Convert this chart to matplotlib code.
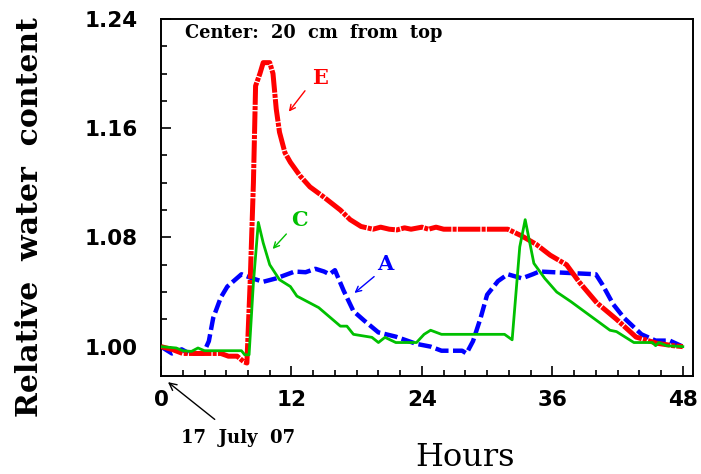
import matplotlib
matplotlib.use("Agg")
import matplotlib.pyplot as plt
from matplotlib.ticker import MultipleLocator, FixedLocator

# curve E (red, dash-dot)
hours_e = [0, 1.0, 2.0, 5.5, 6.2, 7.0, 7.6, 7.9, 8.2, 8.5, 8.7, 9.1, 9.4, 10.0, 10.3,
           10.6, 10.9, 11.4, 11.9, 12.8, 13.7, 14.9, 16.5, 17.4, 18.4, 19.5, 20.2,
           21.0, 21.7, 22.4, 23.0, 24.0, 24.6, 25.3, 26.0, 28.0, 31.0, 31.9, 33.2,
           34.5, 35.8, 37.3, 38.5, 40.1, 41.9, 43.7, 45.6, 47.1, 48.0]
water_e = [1.000, 0.998, 0.995, 0.995, 0.993, 0.993, 0.989, 0.988, 1.047, 1.120,
           1.191, 1.200, 1.208, 1.208, 1.200, 1.174, 1.157, 1.142, 1.135, 1.125,
           1.117, 1.110, 1.100, 1.093, 1.088, 1.086, 1.0875, 1.086, 1.0855, 1.087,
           1.086, 1.0875, 1.086, 1.0875, 1.086, 1.086, 1.086, 1.086, 1.081, 1.075,
           1.067, 1.060, 1.047, 1.032, 1.020, 1.007, 1.0025, 1.0007, 1.000]

# curve C (green, solid)
hours_c = [0, 1.4, 2.0, 2.8, 3.4, 4.0, 7.4, 7.7, 8.1, 8.5, 8.95, 9.4, 10.0, 10.9,
           11.9, 12.5, 14.5, 16.5, 17.1, 17.7, 19.4, 20.0, 20.6, 21.6, 23.5, 24.2,
           24.8, 25.8, 31.6, 32.3, 33.0, 33.5, 34.3, 35.3, 36.4, 37.7, 41.3, 41.9,
           43.5, 45.2, 45.5, 45.8, 46.5, 48.0]
water_c = [1.000, 0.999, 0.997, 0.9965, 0.999, 0.997, 0.997, 0.994, 0.994, 1.047,
           1.091, 1.076, 1.060, 1.049, 1.044, 1.037, 1.0286, 1.015, 1.015, 1.009,
           1.0068, 1.003, 1.0068, 1.003, 1.003, 1.009, 1.012, 1.009, 1.009, 1.005,
           1.073, 1.093, 1.061, 1.050, 1.040, 1.033, 1.012, 1.011, 1.003, 1.003,
           1.0007, 1.003, 1.0007, 1.000]

# curve A (blue, dashed)
hours_a = [0, 1.0, 1.9, 2.6, 3.9, 4.4, 4.8, 5.5, 6.1, 7.4, 8.4, 9.4, 10.6, 12.3,
           13.3, 14.2, 15.0, 15.5, 16.0, 16.8, 17.7, 18.7, 20.0, 21.6, 23.5, 24.8,
           25.8, 27.7, 28.1, 28.7, 29.4, 30.0, 31.0, 31.9, 33.2, 34.2, 34.8, 40.0,
           40.6, 41.6, 42.6, 44.2, 45.5, 46.8, 48.0]
water_a = [1.000, 0.995, 0.998, 0.995, 0.995, 1.004, 1.021, 1.036, 1.044, 1.053,
           1.050, 1.0475, 1.050, 1.055, 1.0545, 1.057, 1.055, 1.053, 1.056, 1.041,
           1.026, 1.019, 1.0104, 1.0073, 1.002, 1.000, 0.997, 0.997, 0.995, 1.004,
           1.021, 1.038, 1.048, 1.053, 1.050, 1.053, 1.055, 1.053, 1.0455, 1.031,
           1.021, 1.009, 1.0044, 1.0044, 1.000]

x_ticks = [0, 12, 24, 36, 48]
y_ticks = [1.00, 1.08, 1.16, 1.24]
y_minor = [1.00 + 0.02 * i for i in range(13)]

fig = plt.figure(figsize=(7.01, 4.74), dpi=100)
ax = fig.add_axes([0.2297, 0.2068, 0.7583, 0.7532])

ax.plot(hours_a, water_a, color="#0000ff", lw=3.2, dashes=(3.0, 1.0), zorder=2)
ax.plot(hours_e, water_e, color="#ff0000", lw=3.6, dashes=(4.5, 0.25, 0.8, 0.25), zorder=3)
ax.plot(hours_c, water_c, color="#00c000", lw=2.0, zorder=4)

ax.set_xlim(0, 48.9)
ax.set_ylim(0.9785, 1.24)
ax.set_xticks(x_ticks)
ax.set_yticks(y_ticks)
ax.set_yticklabels(["%.2f" % v for v in y_ticks])
ax.xaxis.set_minor_locator(MultipleLocator(2))
ax.yaxis.set_minor_locator(FixedLocator(y_minor))
ax.tick_params(which="both", direction="in", top=False, right=False, width=1.2)
ax.tick_params(which="major", length=7)
ax.tick_params(which="minor", length=4.5)
ax.tick_params(axis="y", pad=17)
ax.tick_params(axis="x", pad=10)
for lab in ax.get_xticklabels() + ax.get_yticklabels():
    lab.set_fontsize(15.5)
    lab.set_fontweight("bold")
    lab.set_family("DejaVu Sans")
for s in ax.spines.values():
    s.set_linewidth(1.4)

serif = "DejaVu Serif"
ax.text(0.045, 0.961, "Center:  20  cm  from  top", transform=ax.transAxes,
        family=serif, fontweight="bold", fontsize=12.8, va="center", ha="left")

ax.annotate("", xy=(11.6, 1.1705), xytext=(13.4, 1.189),
            arrowprops=dict(arrowstyle="->", color="#ff0000", lw=1.0))
ax.text(14.6, 1.197, "E", color="#ff0000", family=serif, fontweight="bold",
        fontsize=15, ha="center", va="center")
ax.annotate("", xy=(10.1, 1.070), xytext=(11.7, 1.084),
            arrowprops=dict(arrowstyle="->", color="#00c000", lw=1.0))
ax.text(12.7, 1.0929, "C", color="#00c000", family=serif, fontweight="bold",
        fontsize=15, ha="center", va="center")
ax.annotate("", xy=(17.6, 1.038), xytext=(19.8, 1.0526),
            arrowprops=dict(arrowstyle="->", color="#0000ff", lw=1.0))
ax.text(20.6, 1.0606, "A", color="#0000ff", family=serif, fontweight="bold",
        fontsize=15, ha="center", va="center")

ax.annotate("17  July  07", xy=(0.64, 0.974), xytext=(7.1, 0.933),
            family=serif, fontweight="bold", fontsize=13, ha="center", va="center",
            annotation_clip=False,
            arrowprops=dict(arrowstyle="->", color="black", lw=1.0,
                            shrinkA=8, shrinkB=0))

fig.text(465 / 701, 1 - 458 / 474, "Hours", family=serif, fontsize=23,
         ha="center", va="center")
fig.text(30 / 701, 1 - 217 / 474, "Relative  water  content", family=serif,
         fontweight="bold", fontsize=21.5, rotation=90, ha="center", va="center")

fig.savefig("out.png", dpi=100)
